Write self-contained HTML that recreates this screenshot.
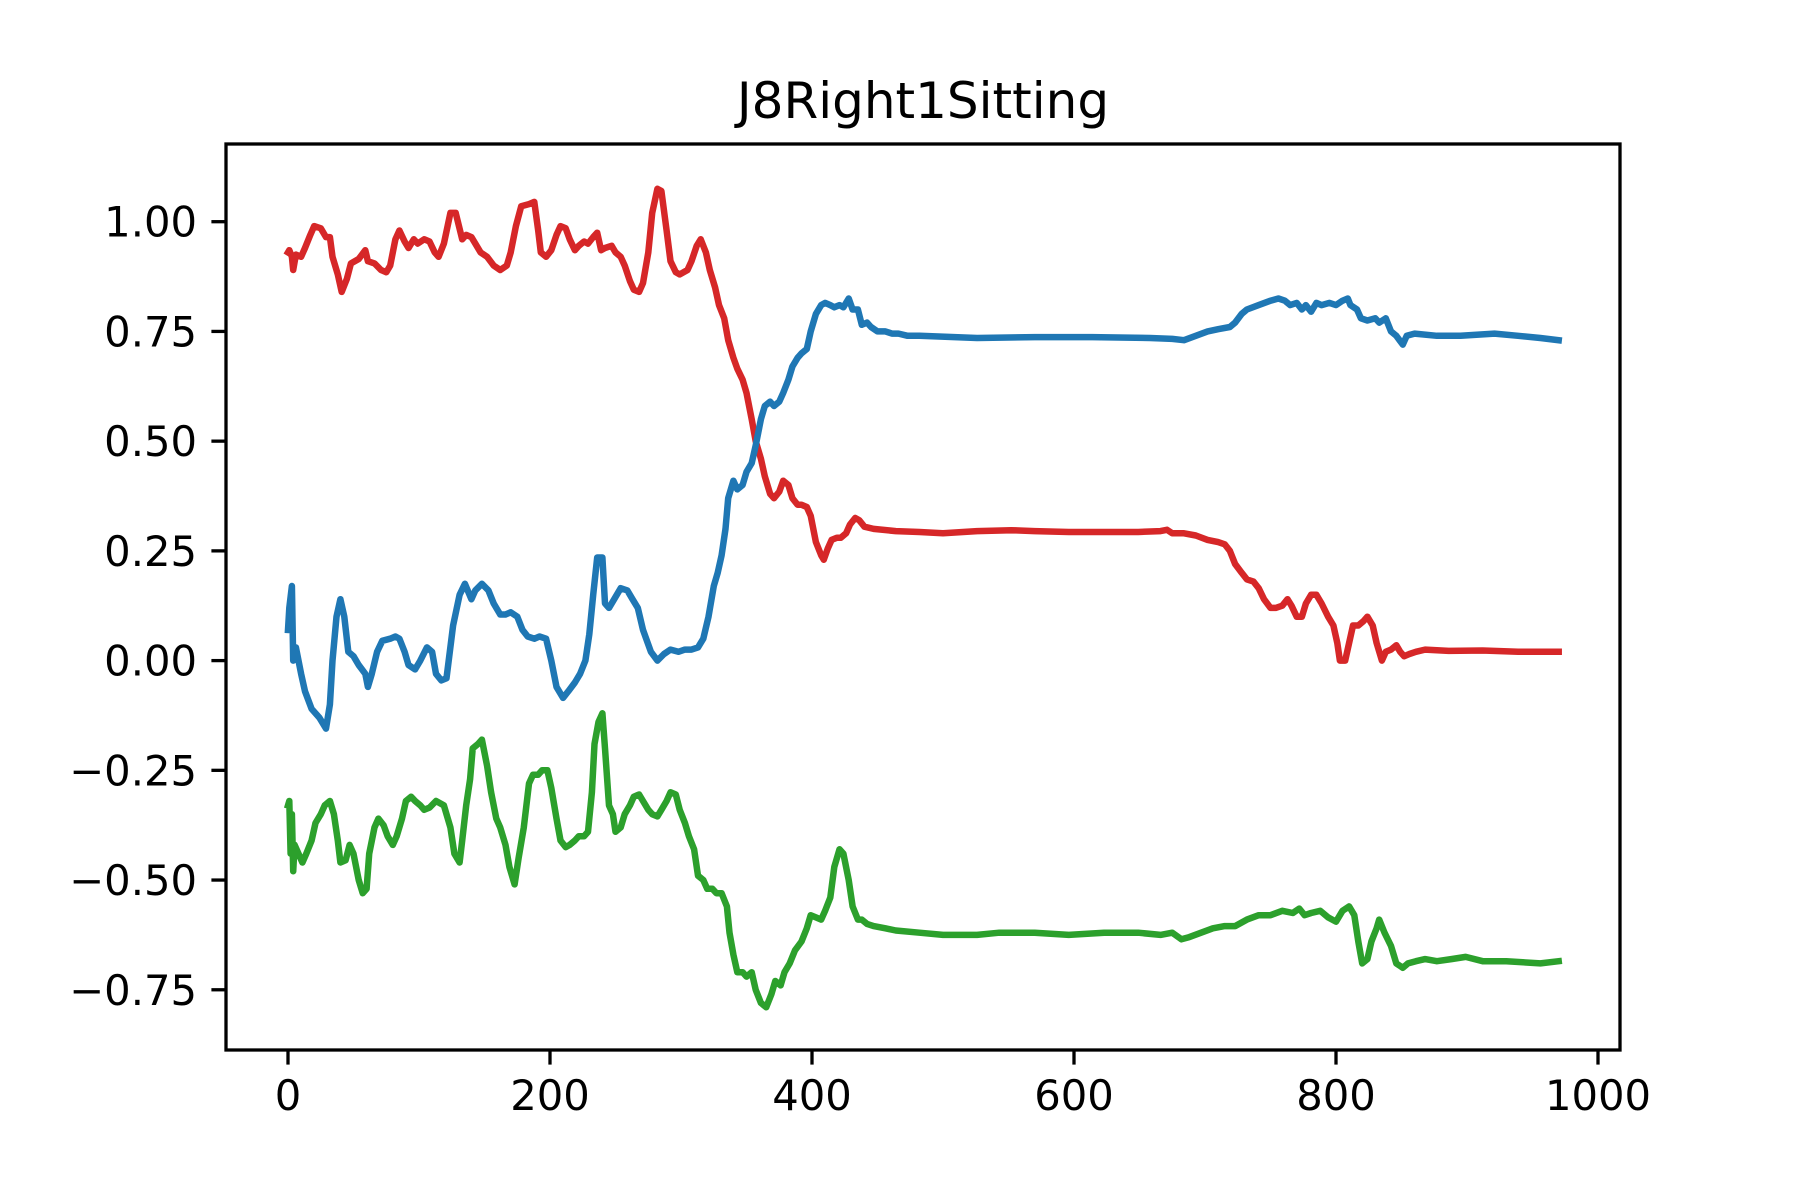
<!DOCTYPE html>
<html><head><meta charset="utf-8"><style>
html,body{margin:0;padding:0;background:#fff;}
svg{display:block;font-family:"DejaVu Sans","Liberation Sans",sans-serif;}
</style></head><body>
<svg id="chart" width="1800" height="1200" viewBox="0 0 1800 1200" xmlns="http://www.w3.org/2000/svg">
<rect x="0" y="0" width="1800" height="1200" fill="#fff"/>
<text x="923" y="118" font-size="50" text-anchor="middle" fill="#000">J8Right1Sitting</text>
<g id="series"></g>
<g id="axes"></g>
</svg>
<script>
const xTicks = [0, 200, 400, 600, 800, 1000];
const yTicks = [-0.75, -0.5, -0.25, 0, 0.25, 0.5, 0.75, 1.0];
const yTickLabels = ["\u22120.75", "\u22120.50", "\u22120.25", "0.00", "0.25", "0.50", "0.75", "1.00"];

const blueX = [0,1,3,4,6,10,13,18,24,29,32,34,37,40,43,46,50,54,59,61,64,68,72,78,82,85,89,92,97,101,106,110,113,117,121,126,131,135,140,143,148,153,157,162,166,170,175,179,183,188,192,197,201,205,210,214,219,223,227,230,233,236,240,242,245,249,254,259,263,267,271,277,282,287,292,298,303,308,313,317,321,325,328,331,334,336,340,343,347,350,354,357,361,364,368,371,375,378,382,385,389,392,396,399,403,407,410,414,417,421,424,428,431,435,438,442,445,450,456,461,466,473,482,526,570,614,658,675,684,693,702,710,719,723,728,732,741,750,756,761,765,770,774,777,781,785,789,795,800,805,809,811,816,819,824,830,833,838,842,846,851,854,860,877,895,921,939,956,970];
const blueY = [0.07,0.12,0.17,0.0,0.03,-0.03,-0.07,-0.11,-0.13,-0.155,-0.10,0.0,0.10,0.14,0.10,0.02,0.01,-0.01,-0.03,-0.06,-0.03,0.02,0.045,0.05,0.055,0.05,0.02,-0.01,-0.02,0.0,0.03,0.02,-0.03,-0.045,-0.04,0.08,0.15,0.175,0.14,0.16,0.175,0.16,0.13,0.105,0.105,0.11,0.10,0.07,0.055,0.05,0.055,0.05,0.0,-0.06,-0.085,-0.07,-0.05,-0.03,0.0,0.06,0.15,0.235,0.235,0.13,0.12,0.14,0.165,0.16,0.14,0.12,0.07,0.02,0.0,0.015,0.025,0.02,0.025,0.025,0.03,0.05,0.10,0.17,0.20,0.24,0.30,0.37,0.41,0.39,0.40,0.43,0.45,0.49,0.55,0.58,0.59,0.58,0.59,0.61,0.64,0.67,0.69,0.70,0.71,0.75,0.79,0.81,0.815,0.81,0.805,0.81,0.805,0.825,0.80,0.80,0.765,0.77,0.76,0.75,0.75,0.745,0.745,0.74,0.74,0.735,0.737,0.737,0.735,0.733,0.73,0.74,0.75,0.755,0.76,0.77,0.79,0.80,0.81,0.82,0.825,0.82,0.81,0.815,0.80,0.81,0.795,0.815,0.81,0.815,0.81,0.82,0.825,0.81,0.80,0.78,0.775,0.78,0.77,0.78,0.75,0.74,0.72,0.74,0.745,0.74,0.74,0.745,0.74,0.735,0.73];

const redX = [0,1,3,4,6,10,13,17,20,25,29,32,34,38,41,45,48,54,59,61,66,71,75,78,82,85,89,92,96,99,104,108,112,115,119,124,128,133,136,140,143,147,152,157,162,167,170,174,178,184,188,191,193,197,201,205,208,212,215,219,222,226,229,233,236,239,242,247,250,254,257,261,264,268,271,275,278,282,285,289,292,296,299,305,308,312,315,319,322,326,329,333,336,340,343,347,350,354,357,361,364,368,371,375,378,382,385,389,392,396,399,403,407,409,412,415,419,422,426,429,433,436,440,447,464,482,500,526,552,570,596,623,649,666,671,675,684,693,702,710,715,719,723,728,732,737,741,745,750,754,759,763,766,770,774,777,781,785,789,794,798,801,803,807,810,813,817,821,824,828,831,835,838,842,846,849,852,856,861,868,886,912,939,956,970];
const redY = [0.93,0.935,0.92,0.89,0.925,0.92,0.94,0.97,0.99,0.985,0.965,0.965,0.92,0.88,0.84,0.87,0.905,0.915,0.935,0.91,0.905,0.89,0.885,0.90,0.96,0.98,0.955,0.94,0.96,0.95,0.96,0.955,0.93,0.92,0.95,1.02,1.02,0.96,0.97,0.965,0.95,0.93,0.92,0.90,0.89,0.90,0.93,0.99,1.035,1.04,1.045,0.98,0.93,0.92,0.935,0.97,0.99,0.985,0.96,0.935,0.945,0.955,0.95,0.965,0.975,0.935,0.94,0.945,0.93,0.92,0.90,0.865,0.845,0.84,0.86,0.93,1.02,1.075,1.07,0.98,0.91,0.885,0.88,0.89,0.91,0.945,0.96,0.93,0.89,0.85,0.81,0.78,0.73,0.69,0.665,0.64,0.61,0.55,0.50,0.46,0.42,0.38,0.37,0.385,0.41,0.40,0.37,0.355,0.355,0.35,0.33,0.27,0.24,0.23,0.255,0.275,0.28,0.28,0.29,0.31,0.325,0.32,0.305,0.30,0.295,0.293,0.29,0.295,0.297,0.295,0.293,0.293,0.293,0.295,0.298,0.29,0.29,0.285,0.275,0.27,0.265,0.25,0.22,0.20,0.185,0.18,0.165,0.14,0.12,0.12,0.125,0.14,0.125,0.10,0.10,0.13,0.15,0.15,0.13,0.10,0.08,0.04,0.0,0.0,0.04,0.08,0.08,0.09,0.10,0.08,0.04,0.0,0.02,0.025,0.035,0.02,0.01,0.015,0.02,0.025,0.022,0.023,0.02,0.02,0.02];

const greenX = [0,1,2,3,4,5,8,11,14,18,21,25,28,32,35,38,40,44,47,50,54,57,60,62,66,69,73,76,80,83,87,90,94,97,101,104,108,113,119,124,127,131,133,136,139,141,145,148,152,155,159,162,166,169,173,176,180,184,187,191,194,198,201,205,208,212,215,219,222,226,229,232,234,237,240,242,245,248,250,254,257,261,264,268,271,275,278,282,285,289,292,296,299,303,306,310,313,317,320,324,327,331,335,337,340,343,347,350,354,357,361,365,369,372,376,379,383,387,392,396,399,403,407,410,414,417,421,424,428,431,435,438,442,447,456,464,482,500,526,543,570,596,623,649,666,675,682,688,697,706,715,723,732,741,750,759,767,772,776,781,788,794,800,805,810,814,817,820,824,827,831,833,837,842,846,851,855,861,868,877,888,899,912,930,956,970];
const greenY = [-0.33,-0.32,-0.44,-0.35,-0.48,-0.42,-0.44,-0.46,-0.44,-0.41,-0.37,-0.35,-0.33,-0.32,-0.35,-0.41,-0.46,-0.455,-0.42,-0.44,-0.50,-0.53,-0.52,-0.44,-0.38,-0.36,-0.375,-0.40,-0.42,-0.40,-0.36,-0.32,-0.31,-0.32,-0.33,-0.34,-0.335,-0.32,-0.33,-0.38,-0.44,-0.46,-0.41,-0.33,-0.27,-0.20,-0.19,-0.18,-0.24,-0.30,-0.36,-0.38,-0.42,-0.47,-0.51,-0.45,-0.38,-0.28,-0.26,-0.26,-0.25,-0.25,-0.29,-0.36,-0.41,-0.425,-0.42,-0.41,-0.40,-0.40,-0.39,-0.30,-0.19,-0.14,-0.12,-0.20,-0.33,-0.35,-0.39,-0.38,-0.35,-0.33,-0.31,-0.305,-0.32,-0.34,-0.35,-0.355,-0.34,-0.32,-0.30,-0.305,-0.34,-0.37,-0.40,-0.43,-0.49,-0.50,-0.52,-0.52,-0.53,-0.53,-0.56,-0.62,-0.67,-0.71,-0.71,-0.72,-0.71,-0.75,-0.78,-0.79,-0.76,-0.73,-0.74,-0.71,-0.69,-0.66,-0.64,-0.61,-0.58,-0.585,-0.59,-0.57,-0.54,-0.47,-0.43,-0.44,-0.50,-0.56,-0.59,-0.59,-0.60,-0.605,-0.61,-0.615,-0.62,-0.625,-0.625,-0.62,-0.62,-0.625,-0.62,-0.62,-0.625,-0.62,-0.635,-0.63,-0.62,-0.61,-0.605,-0.605,-0.59,-0.58,-0.58,-0.57,-0.575,-0.565,-0.58,-0.575,-0.57,-0.585,-0.595,-0.57,-0.56,-0.58,-0.64,-0.69,-0.68,-0.64,-0.61,-0.59,-0.62,-0.65,-0.69,-0.70,-0.69,-0.685,-0.68,-0.685,-0.68,-0.675,-0.685,-0.685,-0.69,-0.685];

const AX = {left:226, right:1620, top:144, bottom:1050};
function sx(v){ return 288 + 1.31 * v; }
function sy(v){ return 660.6 - 438.9 * v; }
const NS = "http://www.w3.org/2000/svg";
const seriesG = document.getElementById('series');
const axesG = document.getElementById('axes');

function drawLine(xs, ys, color, name){
  const p = document.createElementNS(NS, 'path');
  let d = '';
  for (let i = 0; i < xs.length; i++) d += (i ? 'L' : 'M') + sx(xs[i]).toFixed(1) + ' ' + sy(ys[i]).toFixed(1);
  p.setAttribute('d', d);
  p.setAttribute('fill', 'none');
  p.setAttribute('stroke', color);
  p.setAttribute('stroke-width', '6.5');
  p.setAttribute('stroke-linejoin', 'round');
  p.setAttribute('stroke-linecap', 'square');
  
  
  seriesG.appendChild(p);
}
drawLine(redX, redY, '#d62728', 'series-red-line');
drawLine(blueX, blueY, '#1f77b4', 'series-blue-line');
drawLine(greenX, greenY, '#2ca02c', 'series-green-line');

const frame = document.createElementNS(NS, 'rect');
frame.setAttribute('x', AX.left); frame.setAttribute('y', AX.top);
frame.setAttribute('width', AX.right - AX.left); frame.setAttribute('height', AX.bottom - AX.top);
frame.setAttribute('fill', 'none'); frame.setAttribute('stroke', '#000'); frame.setAttribute('stroke-width', '3.3');


axesG.appendChild(frame);

xTicks.forEach(function(t){
  const x = sx(t);
  const l = document.createElementNS(NS, 'line');
  l.setAttribute('x1', x); l.setAttribute('x2', x);
  l.setAttribute('y1', AX.bottom); l.setAttribute('y2', AX.bottom + 14.6);
  l.setAttribute('stroke', '#000'); l.setAttribute('stroke-width', '3.3');
  
  
  axesG.appendChild(l);
  const tx = document.createElementNS(NS, 'text');
  tx.setAttribute('x', x); tx.setAttribute('y', AX.bottom + 60);
  tx.setAttribute('font-size', '41.7'); tx.setAttribute('text-anchor', 'middle');
  tx.textContent = String(t);
  
  
  axesG.appendChild(tx);
});
yTicks.forEach(function(t, i){
  const y = sy(t);
  const l = document.createElementNS(NS, 'line');
  l.setAttribute('x1', AX.left - 14.6); l.setAttribute('x2', AX.left);
  l.setAttribute('y1', y); l.setAttribute('y2', y);
  l.setAttribute('stroke', '#000'); l.setAttribute('stroke-width', '3.3');
  
  
  axesG.appendChild(l);
  const tx = document.createElementNS(NS, 'text');
  tx.setAttribute('x', AX.left - 29); tx.setAttribute('y', y + 15);
  tx.setAttribute('font-size', '41.7'); tx.setAttribute('text-anchor', 'end');
  tx.textContent = yTickLabels[i];
  
  
  axesG.appendChild(tx);
});
</script>
</body></html>
